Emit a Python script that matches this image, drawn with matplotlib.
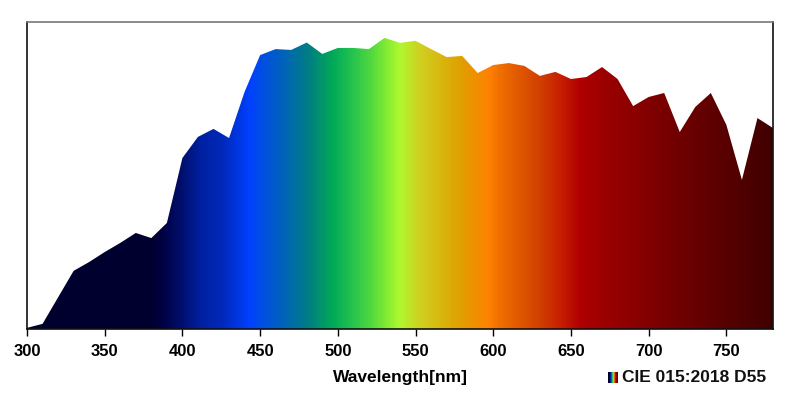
import numpy as np
import matplotlib
matplotlib.use('Agg')
import matplotlib.pyplot as plt
from matplotlib.colors import LinearSegmentedColormap

# D55 spectral power (10 nm steps)
wavelengths = list(range(300, 781, 10))
power = [0.4, 1.8, 11.1, 20.4, 23.5, 27.0, 30.2, 33.7, 31.9, 37.2,
         60.0, 67.4, 70.2, 67.0, 83.2, 96.1, 98.2, 97.9, 100.5, 96.5,
         98.6, 98.6, 98.2, 102.1, 100.4, 101.1, 98.2, 95.4, 95.8, 89.8,
         92.6, 93.3, 92.3, 88.8, 90.2, 87.7, 88.4, 91.9, 87.7, 78.2,
         81.4, 82.8, 69.1, 77.9, 82.8, 71.6, 52.3, 74.0, 70.5]
xticks = [300, 350, 400, 450, 500, 550, 600, 650, 700, 750]
legend_label = "CIE 015:2018 D55"

# spectrum colour stops (nm, colour)
stop_nm = [300, 380, 386, 400, 411, 425, 443, 452, 463, 482, 496, 508, 521, 534, 540,
           553, 566, 579, 598, 604, 617, 630, 643, 656, 668, 694, 720, 750, 780]
stop_col = ['#00002f', '#00002f', '#000040', '#001070', '#0020a0', '#0028b8', '#0040ff',
            '#0050e0', '#0060c0', '#008080', '#00a858', '#20c050', '#50d840', '#90f030',
            '#b0f830', '#d0d020', '#d8b810', '#e0a000', '#ff8000', '#f07000', '#e05800',
            '#d04000', '#c82000', '#b00000', '#a00000', '#880000', '#700000', '#580000',
            '#400000']

pos = [(n - 300) / 480 for n in stop_nm]
spec = LinearSegmentedColormap.from_list('spec', list(zip(pos, stop_col)), N=512)

plt.rcParams['font.family'] = ['Liberation Sans', 'DejaVu Sans']

fig = plt.figure(figsize=(8, 4.09), dpi=100)
ax = fig.add_axes([0.03375, 0.1956, 0.9325, 0.7506])

ymax = 107.7
poly = ax.fill_between(wavelengths, 0, power, color='none', lw=0)
grad = np.linspace(0, 1, 960).reshape(1, -1)
img = ax.imshow(grad, cmap=spec, aspect='auto', extent=[300, 780, 0, ymax],
                origin='lower', interpolation='bilinear')
img.set_clip_path(poly.get_paths()[0], transform=ax.transData)

ax.set_xlim(300, 780)
ax.set_ylim(0, ymax)
ax.set_yticks([])
ax.set_xticks(xticks)
ax.tick_params(axis='x', direction='out', length=5, width=1, labelsize=12, pad=6)
for lab in ax.get_xticklabels():
    lab.set_fontweight('bold')
ax.set_xlabel('Wavelength[nm]', fontsize=12.5, fontweight='bold', labelpad=8)
for side in ['left', 'bottom', 'right']:
    ax.spines[side].set_color('#111111')
ax.spines['top'].set_color('#777777')
for s in ax.spines.values():
    s.set_linewidth(1.2)

# legend entry with small spectrum swatch
icon = fig.add_axes([608 / 800, 1 - 383 / 409, 10 / 800, 11 / 409])
icon.imshow(grad, cmap=spec, aspect='auto', extent=[0, 1, 0, 1])
icon.set_axis_off()
fig.text(622 / 800, 1 - 377 / 409, legend_label, fontsize=12.5, fontweight='bold',
         va='center', ha='left', color='#111111')

fig.savefig('out.png', dpi=100)
